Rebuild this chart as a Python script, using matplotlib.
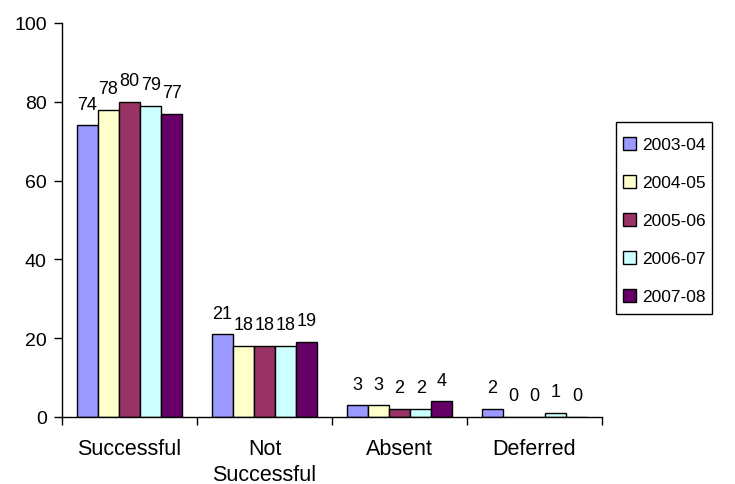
import numpy as np
import matplotlib
matplotlib.use("Agg")
import matplotlib.pyplot as plt
from matplotlib.patches import Rectangle

plt.rcParams['font.family'] = ['Liberation Sans', 'DejaVu Sans']

categories = ['Successful', 'Not\nSuccessful', 'Absent', 'Deferred']
years = ['2003-04', '2004-05', '2005-06', '2006-07', '2007-08']
v_2003 = [74, 21, 3, 2]
v_2004 = [78, 18, 3, 0]
v_2005 = [80, 18, 2, 0]
v_2006 = [79, 18, 2, 1]
v_2007 = [77, 19, 4, 0]
series = [v_2003, v_2004, v_2005, v_2006, v_2007]
colors = ['#9999FF', '#FFFFCC', '#993366', '#CCFFFF', '#660066']

W, H = 735, 485
fig = plt.figure(figsize=(W / 100, H / 100), dpi=100)
ax = fig.add_axes([62/W, 1 - 418/H, 540/W, (418 - 24)/H])

x = np.arange(len(categories))
width = 0.157
for i, (vals, col, lab) in enumerate(zip(series, colors, years)):
    xs = x + (i - 2) * width
    ax.bar(xs, vals, width, color=col, edgecolor='black', linewidth=1, label=lab)
    for xi, v in zip(xs, vals):
        ax.annotate(str(v), (xi, v), xytext=(0, 12), textcoords='offset points',
                    ha='center', va='baseline', fontsize=13)

ax.set_xlim(-0.5, 3.5)
ax.set_ylim(0, 100)
ax.set_yticks([0, 20, 40, 60, 80, 100])
ax.tick_params(axis='y', labelsize=14, length=6, width=1, direction='out', pad=5)

ax.set_xticks(x)
ax.set_xticklabels(categories, linespacing=1.3)
ax.set_xticks(np.arange(-0.5, 4, 1), minor=True)
ax.tick_params(axis='x', which='major', length=0, labelsize=15.5, pad=15)
ax.tick_params(axis='x', which='minor', length=6, width=1, direction='out')
for lbl in ax.get_xticklabels():
    lbl.set_va('top')

for s in ['top', 'right']:
    ax.spines[s].set_visible(False)
for s in ['left', 'bottom']:
    ax.spines[s].set_linewidth(1)

# legend box drawn by hand so the padding can differ per side
fig.patches.append(Rectangle((616/W, 1 - 315/H), 96/W, 192/H, transform=fig.transFigure,
                             facecolor='white', edgecolor='black', linewidth=1))
leg = fig.legend(loc='upper left', bbox_to_anchor=(623/W, 1 - 138/H),
                 borderaxespad=0, borderpad=0, fontsize=12.5, frameon=False,
                 handlelength=0.75, handleheight=0.75,
                 handletextpad=0.35, labelspacing=1.3)

fig.savefig('out.png', dpi=100)
